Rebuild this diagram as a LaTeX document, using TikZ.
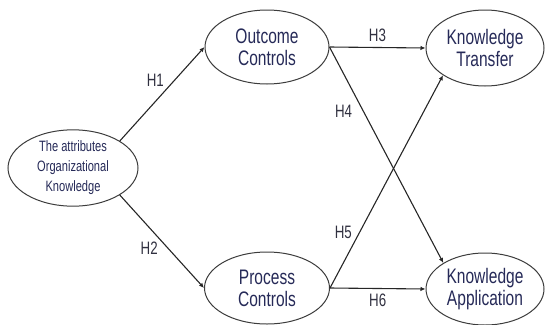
\documentclass[tikz,border=0pt]{standalone}
\usepackage{fontspec}
\setmainfont[FakeStretch=0.74]{Liberation Sans}
\usepackage{xcolor}
\usepackage{tikz}
\usetikzlibrary{arrows.meta,positioning,shapes.geometric}
\definecolor{ink}{HTML}{262A58}
\definecolor{rim}{HTML}{3C3C3C}
\definecolor{hlab}{HTML}{303040}
\tikzset{
  construct/.style={ellipse,draw=rim,line width=1pt,fill=white,inner sep=0pt,
    align=center,text=ink,font=\fontsize{21}{22}\selectfont},
  path/.style={-{Latex[length=5pt,width=4.5pt]},line width=1.1pt,draw=black!85},
  hyp/.style={text=hlab,inner sep=2pt,font=\fontsize{18}{20}\selectfont}
}

\begin{document}
\begin{tikzpicture}[x=1pt,y=-1pt]
\useasboundingbox (0,0) rectangle (545,324);
\node[construct,minimum width=130pt,minimum height=70pt,
  font=\fontsize{15}{20}\selectfont] (attr) at (73,168)
  {The attributes\\Organizational\\Knowledge};
\node[construct,minimum width=124pt,minimum height=74pt] (outcome) at (267,47) {Outcome\\Controls};
\node[construct,minimum width=125pt,minimum height=72pt] (process) at (267,288) {Process\\Controls};
\node[construct,minimum width=118pt,minimum height=76pt] (transfer) at (485,48) {Knowledge\\Transfer};
\node[construct,minimum width=118pt,minimum height=72pt] (application) at (485,289) {Knowledge\\Application};
% hypothesised paths
\draw[path] (attr.30) -- node[hyp,pos=0.55,above left] (h1) {H1} (outcome.west);
\draw[path] (attr.-30) -- node[hyp,pos=0.48,below left] (h2) {H2} (process.west);
\draw[path] (outcome.east) -- node[hyp,above=3pt] (h3) {H3} (transfer.west);
\draw[path] (outcome.east) -- node[hyp,pos=0.3,left=9pt] (h4) {H4} (application.148);
\draw[path] (process.east) -- node[hyp,pos=0.26,left=5pt] (h5) {H5} (transfer.213);
\draw[path] (process.east) -- node[hyp,below=3pt] (h6) {H6} (application.west);
\end{tikzpicture}
\end{document}
